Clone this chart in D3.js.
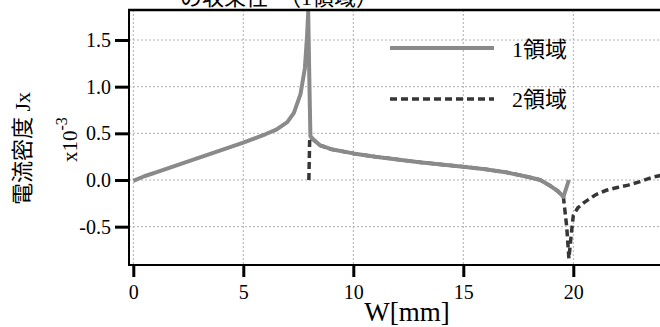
<!DOCTYPE html>
<html><head><meta charset="utf-8">
<script src="https://cdn.jsdelivr.net/npm/d3@7"></script>
<style>
html,body{margin:0;padding:0;background:#fff;}
svg{display:block;}
text{font-family:"Liberation Serif","Noto Sans CJK JP",serif;fill:#000;}
</style></head>
<body>
<svg id="chart" width="660" height="327"></svg>
<script>
// ---- data ----
const xTicks = [0, 5, 10, 15, 20];
const yTicks = [-0.5, 0, 0.5, 1.0, 1.5];
const seriesNames = ["1領域", "2領域"];
const s1x = [0, 0.5, 1, 2, 3, 4, 5, 6, 6.5, 7, 7.3, 7.6, 7.8, 7.9, 7.95, 8.0, 8.05, 8.2, 8.5, 9, 10, 11, 12, 13, 14, 15, 16, 17, 18, 18.5, 19, 19.3, 19.55, 19.8];
const s1y = [-0.01, 0.04, 0.08, 0.16, 0.24, 0.32, 0.40, 0.49, 0.54, 0.62, 0.72, 0.92, 1.2, 1.55, 1.8, 1.1, 0.47, 0.43, 0.37, 0.33, 0.285, 0.25, 0.22, 0.19, 0.165, 0.143, 0.115, 0.08, 0.03, 0.0, -0.07, -0.12, -0.18, 0.0];
const s2x = [7.98, 8.02, 8.2, 8.5, 9, 10, 11, 12, 13, 14, 15, 16, 17, 18, 18.5, 19, 19.3, 19.55, 19.7, 19.8, 19.9, 20.0, 20.2, 20.5, 21, 21.5, 22, 22.5, 23, 23.6, 24.2];
const s2y = [0.0, 0.46, 0.43, 0.37, 0.33, 0.285, 0.25, 0.22, 0.19, 0.165, 0.143, 0.115, 0.08, 0.03, 0.0, -0.07, -0.12, -0.18, -0.5, -0.84, -0.6, -0.38, -0.3, -0.24, -0.16, -0.11, -0.08, -0.055, -0.02, 0.03, 0.06];
const titleText = "の収束性\u3000（1領域）";
const yLabel = "電流密度 Jx";
const xLabel = "W[mm]";

// ---- layout ----
const svg = d3.select("#chart");
const pL = 129, pR = 662, pT = 10, pB = 265;
const x = d3.scaleLinear().domain([0, 20]).range([133.3, 573.3]);
const y = d3.scaleLinear().domain([0, 1.5]).range([180, 40]);

// clip
svg.append("defs").append("clipPath").attr("id", "clip")
  .append("rect").attr("x", pL).attr("y", pT).attr("width", pR - pL).attr("height", pB - pT);

// grid
const grid = svg.append("g");
grid.selectAll("line.vx").data(xTicks).join("line")
  .attr("x1", d => x(d)).attr("x2", d => x(d)).attr("y1", pT).attr("y2", pB)
  .attr("stroke", "#b0b0b0").attr("stroke-width", 1).attr("stroke-dasharray", "2,2");
grid.selectAll("line.hy").data(yTicks).join("line")
  .attr("x1", pL).attr("x2", pR).attr("y1", d => y(d)).attr("y2", d => y(d))
  .attr("stroke", "#b0b0b0").attr("stroke-width", 1).attr("stroke-dasharray", "2,2");

// series
const line = d3.line().x(d => x(d[0])).y(d => y(d[1]));
const plot = svg.append("g").attr("clip-path", "url(#clip)");
plot.append("path").datum(s2x.map((v, i) => [v, s2y[i]]))
  .attr("d", line).attr("fill", "none").attr("stroke", "#363636")
  .attr("stroke-width", 3.5).attr("stroke-dasharray", "7,4");
plot.append("path").datum(s1x.map((v, i) => [v, s1y[i]]))
  .attr("d", line).attr("fill", "none").attr("stroke", "#8a8a8a")
  .attr("stroke-width", 4).attr("stroke-linejoin", "round");

// axes
const yAxis = svg.append("g").attr("transform", `translate(${pL},0)`)
  .call(d3.axisLeft(y).tickValues(yTicks).tickFormat(d => d.toFixed(1)).tickSize(14).tickSizeOuter(0).tickPadding(4));
yAxis.select(".domain").remove();
yAxis.selectAll(".tick line").attr("stroke", "#000").attr("stroke-width", 3);
yAxis.selectAll(".tick text").attr("font-size", 20).style("font-family", "'Liberation Serif', serif");

const xAxis = svg.append("g").attr("transform", `translate(0,${pB})`)
  .call(d3.axisBottom(x).tickValues(xTicks).tickFormat(d3.format("d")).tickSize(12).tickSizeOuter(0).tickPadding(8));
xAxis.select(".domain").remove();
xAxis.selectAll(".tick line").attr("stroke", "#000").attr("stroke-width", 3);
xAxis.selectAll(".tick text").attr("font-size", 20).style("font-family", "'Liberation Serif', serif");

// frame lines
svg.append("line").attr("x1", pL).attr("x2", pL).attr("y1", pT - 1).attr("y2", pB + 1).attr("stroke", "#000").attr("stroke-width", 2);
svg.append("line").attr("x1", pL - 1).attr("x2", 660).attr("y1", pB).attr("y2", pB).attr("stroke", "#000").attr("stroke-width", 2);
svg.append("line").attr("x1", pL - 1).attr("x2", 660).attr("y1", pT).attr("y2", pT).attr("stroke", "#000").attr("stroke-width", 2.5);

// title (clipped at top, as in the reference)
svg.append("text").attr("x", 180).attr("y", 5).attr("font-size", 22).text(titleText);

// legend
const leg = svg.append("g");
leg.append("line").attr("x1", 390).attr("x2", 494).attr("y1", 48).attr("y2", 48)
  .attr("stroke", "#8a8a8a").attr("stroke-width", 4);
leg.append("text").attr("x", 512).attr("y", 57).attr("font-size", 22).text(seriesNames[0]);
leg.append("line").attr("x1", 390).attr("x2", 494).attr("y1", 99).attr("y2", 99)
  .attr("stroke", "#363636").attr("stroke-width", 3.5).attr("stroke-dasharray", "7,4");
leg.append("text").attr("x", 512).attr("y", 107).attr("font-size", 22).text(seriesNames[1]);

// y label
svg.append("text").attr("transform", "translate(30,205) rotate(-90)")
  .attr("font-size", 22).attr("text-anchor", "start").text(yLabel);
const sc = svg.append("text").attr("transform", "translate(77,162) rotate(-90)")
  .attr("font-size", 21).attr("text-anchor", "start");
sc.append("tspan").text("x10");
sc.append("tspan").attr("font-size", 16).attr("dy", -10).text("-3");

// x label
svg.append("text").attr("x", 407).attr("y", 321).attr("font-size", 27).attr("text-anchor", "middle").text(xLabel);
</script>
</body></html>
